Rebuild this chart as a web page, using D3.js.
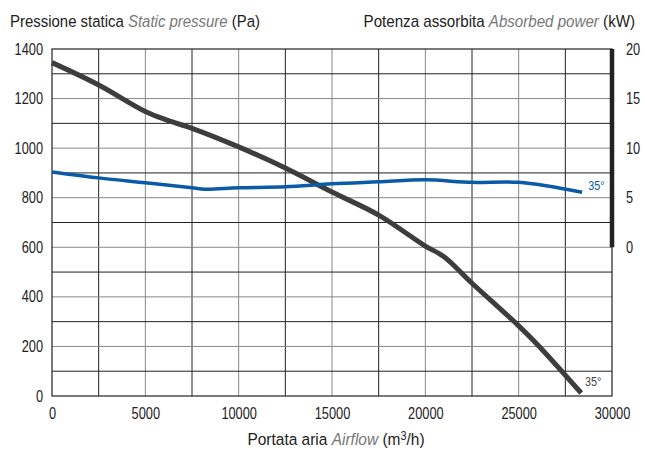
<!DOCTYPE html>
<html>
<head>
<meta charset="utf-8">
<script src="https://cdn.jsdelivr.net/npm/d3@7"></script>
<style>
  body { margin: 0; background: #fff; }
  svg text { font-family: "Liberation Sans Narrow", "Arial Narrow", "Liberation Sans", sans-serif; fill: #222; }
</style>
</head>
<body>
<svg id="chart" width="645" height="450"></svg>
<script>
// airflow (m3/h) vs static pressure (Pa)
const pressureFlow = [0, 2500, 5000, 6200, 7500, 10000, 12500, 15000, 17500, 20000, 21000, 22500, 25000, 26000, 28350];
const pressurePa   = [1345, 1255, 1148, 1112, 1080, 1005, 920, 823, 730, 605, 562, 455, 283, 208, 12];

// airflow (m3/h) vs absorbed power (kW)
const powerFlow = [0, 2500, 5000, 7500, 8200, 10000, 12500, 15000, 17500, 20000, 22500, 25000, 28400];
const powerKW   = [7.6, 7.0, 6.5, 6.0, 5.85, 6.0, 6.1, 6.4, 6.6, 6.8, 6.55, 6.55, 5.55];

const xTicks = [0, 5000, 10000, 15000, 20000, 25000, 30000];
const yTicks = [0, 200, 400, 600, 800, 1000, 1200, 1400];
const powerTicks = [0, 5, 10, 15, 20];

const plotL = 52, plotR = 612, plotT = 49, plotB = 396;

const svg = d3.select('#chart');

// squeeze text horizontally around its anchor (the reference uses a condensed face)
function narrow(sel, s) {
  sel.each(function () {
    const ax = +this.getAttribute('x') || 0;
    this.setAttribute('transform', `translate(${ax},0) scale(${s},1) translate(${-ax},0)`);
  });
}

const x = d3.scaleLinear().domain([0, 30000]).range([plotL, plotR]);
const y = d3.scaleLinear().domain([0, 1400]).range([plotB, plotT]);
// power axis occupies the upper part: 0 kW at 600 Pa, 20 kW at 1400 Pa
const yP = d3.scaleLinear().domain([0, 20]).range([y(600), y(1400)]);

// grid: labelled lines grey, intermediate lines black
const grid = svg.append('g').attr('class', 'grid');
d3.range(2500, 30000, 2500).forEach(v => {
  grid.append('line')
    .attr('x1', x(v)).attr('x2', x(v)).attr('y1', plotT).attr('y2', plotB)
    .attr('stroke', v % 5000 === 0 ? '#888' : '#222').attr('stroke-width', 1);
});
d3.range(100, 1400, 100).forEach(v => {
  grid.append('line')
    .attr('x1', plotL).attr('x2', plotR).attr('y1', y(v)).attr('y2', y(v))
    .attr('stroke', v % 200 === 0 ? '#888' : '#222').attr('stroke-width', 1);
});

// frame
svg.append('rect')
  .attr('x', plotL).attr('y', plotT).attr('width', plotR - plotL).attr('height', plotB - plotT)
  .attr('fill', 'none').attr('stroke', '#222').attr('stroke-width', 1.2);

// thick bar for the power axis
svg.append('line')
  .attr('x1', plotR).attr('x2', plotR).attr('y1', yP(20)).attr('y2', yP(0))
  .attr('stroke', '#222').attr('stroke-width', 4.5);

// axes (labels only)
const xAxis = svg.append('g').attr('transform', `translate(0,${plotB})`)
  .call(d3.axisBottom(x).tickValues(xTicks).tickSize(0).tickPadding(12).tickFormat(d3.format('d')));
const yAxis = svg.append('g').attr('transform', `translate(${plotL},0)`)
  .call(d3.axisLeft(y).tickValues(yTicks).tickSize(0).tickPadding(9).tickFormat(d3.format('d')));
const pAxis = svg.append('g').attr('transform', `translate(${plotR},0)`)
  .call(d3.axisRight(yP).tickValues(powerTicks).tickSize(0).tickPadding(14).tickFormat(d3.format('d')));
[xAxis, yAxis, pAxis].forEach(a => {
  a.attr('font-family', null).attr('font-size', null);
  a.select('.domain').remove();
  a.selectAll('text').attr('font-size', 16).call(narrow, 0.8);
});

// curves
const line = d3.line().curve(d3.curveCatmullRom.alpha(0.5));

svg.append('path')
  .attr('d', line(pressureFlow.map((f, i) => [x(f), y(pressurePa[i])])))
  .attr('fill', 'none').attr('stroke', '#3d3d3d').attr('stroke-width', 5);

svg.append('path')
  .attr('d', line(powerFlow.map((f, i) => [x(f), yP(powerKW[i])])))
  .attr('fill', 'none').attr('stroke', '#0a5aa8').attr('stroke-width', 3.5);

// curve labels
svg.append('text').attr('x', x(28400) + 6).attr('y', yP(powerKW[powerKW.length - 1]) - 2)
  .attr('font-size', 12).style('fill', '#0a5aa8').text('35°').call(narrow, 0.9);
svg.append('text').attr('x', 585).attr('y', 386)
  .attr('font-size', 12).style('fill', '#444').text('35°').call(narrow, 0.9);

// titles
const t1 = svg.append('text').attr('x', 10).attr('y', 27).attr('font-size', 17);
t1.append('tspan').text('Pressione statica ');
t1.append('tspan').attr('font-style', 'italic').style('fill', '#777').text(' Static pressure');
t1.append('tspan').text(' (Pa)');
t1.call(narrow, 0.88);

const t2 = svg.append('text').attr('x', 635).attr('y', 27).attr('font-size', 17).attr('text-anchor', 'end');
t2.append('tspan').text('Potenza assorbita ');
t2.append('tspan').attr('font-style', 'italic').style('fill', '#777').text(' Absorbed power');
t2.append('tspan').text(' (kW)');
t2.call(narrow, 0.89);

const t3 = svg.append('text').attr('x', 336).attr('y', 445).attr('font-size', 17).attr('text-anchor', 'middle');
t3.append('tspan').text('Portata aria ');
t3.append('tspan').attr('font-style', 'italic').style('fill', '#777').text(' Airflow');
t3.append('tspan').text(' (m');
t3.append('tspan').attr('font-size', 12).attr('dy', -5).text('3');
t3.append('tspan').attr('dy', 5).text('/h)');
t3.call(narrow, 0.91);
</script>
</body>
</html>
